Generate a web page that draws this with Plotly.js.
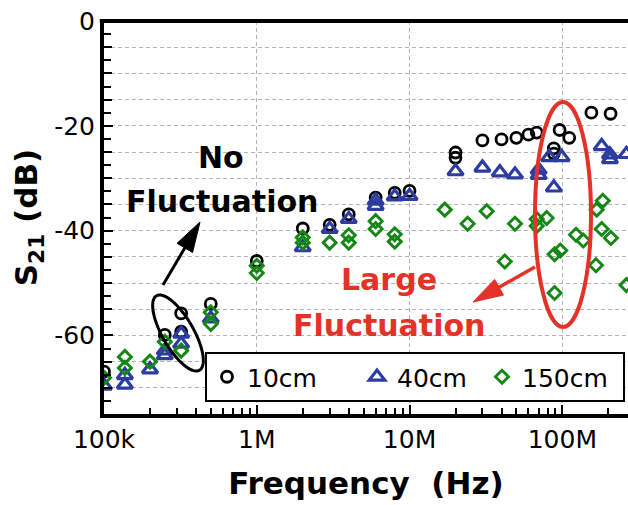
<!DOCTYPE html>
<html><head><meta charset="utf-8">
<script src="https://cdn.plot.ly/plotly-3.0.1.min.js"></script>
<style>html,body{margin:0;padding:0;background:#fff}#chart{width:628px;height:505px}</style>
</head><body><div id="chart"></div>
<script>
// ---- data ----
const seriesNames = ["10cm", "40cm", "150cm"];
const freq10 = [1e5, 2.5e5, 3.2e5, 3.2e5, 5e5, 1e6, 2e6, 3e6, 4e6, 6e6, 8e6, 1e7, 2e7, 2e7, 3e7, 4e7, 5e7, 6e7, 6.8e7, 8.8e7, 8.8e7, 9.6e7, 1.11e8, 1.55e8, 2.07e8];
const s21_10 = [-66.9, -59.9, -55.8, -59.3, -54.0, -45.8, -39.6, -38.9, -36.9, -33.7, -32.8, -32.4, -25.1, -26.1, -22.8, -22.6, -22.3, -21.7, -21.3, -24.3, -25.3, -20.8, -22.3, -17.5, -17.7];
const freq40 = [1e5, 1.37e5, 1.37e5, 2e5, 2.5e5, 2.5e5, 3.2e5, 3.2e5, 5e5, 2e6, 3e6, 4e6, 6e6, 6e6, 8e6, 1e7, 2e7, 3e7, 3.9e7, 4.9e7, 7e7, 7e7, 8.2e7, 8.8e7, 9.9e7, 1.81e8, 2.05e8, 2.05e8, 2.63e8];
const s21_40 = [-69.6, -67.6, -69.4, -66.5, -62.9, -63.8, -59.7, -61.6, -56.8, -43.2, -39.7, -37.8, -34.3, -35.3, -33.5, -33.4, -28.7, -28.0, -28.9, -29.3, -28.4, -29.4, -26.0, -31.8, -26.0, -23.9, -25.5, -26.4, -25.4];
const freq150 = [1e5, 1.37e5, 1.37e5, 2e5, 2.5e5, 3.2e5, 5e5, 5e5, 1e6, 1e6, 2e6, 2e6, 3e6, 4e6, 4e6, 6e6, 6e6, 8e6, 8e6, 1.7e7, 2.4e7, 3.2e7, 4.2e7, 4.9e7, 6.8e7, 6.8e7, 7.9e7, 8.9e7, 8.9e7, 9.7e7, 1.23e8, 1.37e8, 1.66e8, 1.68e8, 1.84e8, 1.81e8, 2.08e8, 2.63e8];
const s21_150 = [-68.1, -64.1, -66.2, -65.0, -61.2, -62.9, -55.6, -57.8, -46.7, -48.1, -41.3, -42.3, -42.3, -40.9, -42.3, -38.2, -39.7, -40.7, -42.1, -36.0, -38.7, -36.3, -45.9, -38.7, -37.8, -39.1, -37.6, -44.5, -51.9, -43.8, -40.8, -41.9, -46.6, -36.0, -34.3, -39.7, -41.4, -50.4];
const xTickVals = [1e5, 1e6, 1e7, 1e8];
const xTickText = ["100k", "1M", "10M", "100M"];
const yTickVals = [0, -20, -40, -60];
const yTickText = ["0", "-20", "-40", "-60"];

// ---- geometry helpers for annotation drawings (pixel -> paper) ----
const PL = 104, PT = 21, PW = 524, PH = 393;
function P(x, y) { return [((x - PL) / PW).toFixed(5), ((PT + PH - y) / PH).toFixed(5)]; }
function ellipsePath(cx, cy, a, b, deg) {
  const th = deg * Math.PI / 180; let d = "";
  for (let i = 0; i <= 72; i++) {
    const t = i / 72 * 2 * Math.PI;
    const x = cx + a * Math.cos(th) * Math.cos(t) - b * Math.sin(th) * Math.sin(t);
    const y = cy + a * Math.sin(th) * Math.cos(t) + b * Math.cos(th) * Math.sin(t);
    const p = P(x, y); d += (i ? " L" : "M") + p[0] + "," + p[1];
  }
  return d + " Z";
}
function arrowShapes(tx, ty, hx, hy, len, wid, color, lw) {
  const dx = hx - tx, dy = hy - ty, L = Math.hypot(dx, dy), ux = dx / L, uy = dy / L;
  const bx = hx - ux * len, by = hy - uy * len;
  const l1 = P(bx - uy * wid / 2, by + ux * wid / 2), l2 = P(bx + uy * wid / 2, by - ux * wid / 2);
  const t = P(tx, ty), b = P(bx + ux * 2, by + uy * 2), h = P(hx, hy);
  return [
    {type: "line", xref: "paper", yref: "paper", x0: t[0], y0: t[1], x1: b[0], y1: b[1], line: {color: color, width: lw}},
    {type: "path", xref: "paper", yref: "paper", path: "M" + h[0] + "," + h[1] + " L" + l1[0] + "," + l1[1] + " L" + l2[0] + "," + l2[1] + " Z", fillcolor: color, line: {color: color, width: 1}}
  ];
}

const FONT = "DejaVu Sans, Liberation Sans, Arial, sans-serif";
const RED = "rgb(228,50,40)";
const GRID = "#b4b4b4";
const BLUE = "rgb(45,60,160)";
const GREEN = "rgb(20,135,20)";

const traces = [
  {x: freq10, y: s21_10, name: seriesNames[0], type: "scatter", mode: "markers", legendwidth: 105,
   marker: {symbol: "circle-open", size: 11, color: "#000", line: {width: 2.8, color: "#000"}}},
  {x: freq40, y: s21_40, name: seriesNames[1], type: "scatter", mode: "markers", legendwidth: 80,
   marker: {symbol: "triangle-up-open", size: 13.5, color: BLUE, line: {width: 3.2, color: BLUE}}},
  {x: freq150, y: s21_150, name: seriesNames[2], type: "scatter", mode: "markers", legendwidth: 96,
   marker: {symbol: "diamond-open", size: 10, color: GREEN, line: {width: 2.9, color: GREEN}}},
  // invisible helper trace on the overlaid axis that carries the 2.5 dB minor ticks
  {x: [1e6], y: [-40], xaxis: "x", yaxis: "y2", type: "scatter", mode: "markers", showlegend: false,
   hoverinfo: "skip", marker: {opacity: 0}}
];

const shapes = [
  {type: "line", xref: "paper", yref: "paper", x0: -0.008, x1: 1, y0: 1, y1: 1, line: {color: "#000", width: 4}},
  {type: "path", xref: "paper", yref: "paper", path: ellipsePath(178, 333, 43, 15.5, 60), line: {color: "#000", width: 3}},
  {type: "circle", xref: "paper", yref: "paper", x0: P(535, 0)[0], x1: P(591, 0)[0], y0: P(0, 327)[1], y1: P(0, 102)[1], line: {color: RED, width: 4}}
].concat(arrowShapes(163, 285, 200, 222, 30, 18, "#000", 3))
 .concat(arrowShapes(535, 267, 473, 302, 30, 18, RED, 3.5));

const ann = (txt, x, y, color) => {
  const p = P(x, y);
  return {text: txt, xref: "paper", yref: "paper", x: +p[0], y: +p[1], xanchor: "center", yanchor: "middle",
          showarrow: false, font: {family: FONT, size: 30, color: color, weight: "bold"}};
};

const layout = {
  width: 628, height: 505,
  margin: {l: PL, r: 0, t: PT, b: 505 - PT - PH},
  paper_bgcolor: "#fff", plot_bgcolor: "#fff",
  font: {family: FONT, color: "#000", size: 25},
  showlegend: true,
  legend: {orientation: "h", x: P(205, 0)[0], y: P(0, 352)[1], xanchor: "left", yanchor: "top",
           bordercolor: "#000", borderwidth: 2, bgcolor: "#fff", font: {family: FONT, size: 25}, traceorder: "normal"},
  xaxis: {
    type: "log", range: [5, 8.43], showline: true, linecolor: "#000", linewidth: 4, mirror: false,
    ticks: "inside", ticklen: 9, tickwidth: 2, tickcolor: "#000",
    tickmode: "array", tickvals: xTickVals, ticktext: xTickText, tickfont: {size: 25},
    showgrid: true, gridcolor: GRID, gridwidth: 1, griddash: "4px,3px", zeroline: false,
    minor: {dtick: "D1", ticks: "inside", ticklen: 6, tickwidth: 2, tickcolor: "#000", showgrid: false},
    title: {text: "Frequency\u00a0 (Hz)", font: {size: 31, weight: "bold"}, standoff: 20}
  },
  yaxis: {
    range: [-75, 0], showline: true, linecolor: "#000", linewidth: 4, mirror: false,
    ticks: "inside", ticklen: 9, tickwidth: 2, tickcolor: "#000",
    tickmode: "array", tickvals: yTickVals, ticktext: yTickText, tickfont: {size: 25},
    showgrid: true, gridcolor: GRID, gridwidth: 1, griddash: "4px,3px", zeroline: false,
    minor: {dtick: 5, ticks: "inside", ticklen: 8, tickwidth: 2, tickcolor: "#000",
            showgrid: true, gridcolor: GRID, gridwidth: 1, griddash: "4px,3px"},
    title: {text: "S<sub>21</sub> (dB)", font: {size: 31, weight: "bold"}, standoff: 8}
  },
  yaxis2: {
    overlaying: "y", side: "left", range: [-75, 0], showline: false, showgrid: false, zeroline: false,
    showticklabels: false, ticks: "inside", tickmode: "linear", tick0: 0, dtick: 2.5,
    ticklen: 7, tickwidth: 2, tickcolor: "#000"
  },
  shapes: shapes,
  annotations: [
    ann("No", 221, 157, "#000"),
    ann("Fluctuation", 222, 201, "#000"),
    ann("Large", 389, 280, RED),
    ann("Fluctuation", 389, 326, RED)
  ]
};

Plotly.newPlot("chart", traces, layout, {displayModeBar: false, staticPlot: true});
</script>
</body></html>
